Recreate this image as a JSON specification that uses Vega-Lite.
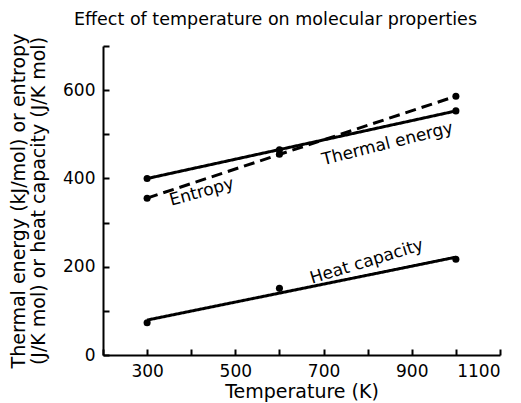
{
  "$schema": "https://vega.github.io/schema/vega-lite/v6.json",
  "width": 397,
  "height": 309,
  "autosize": "none",
  "padding": {"left": 103, "top": 46, "right": 21, "bottom": 48},
  "config": {
    "font": "DejaVu Sans",
    "view": {"stroke": null},
    "axis": {
      "domainColor": "black",
      "domainWidth": 2,
      "labelColor": "black",
      "labelFontSize": 17,
      "titleColor": "black",
      "titleFontSize": 19,
      "titleFontWeight": "normal",
      "ticks": false,
      "grid": true,
      "gridColor": "black",
      "gridWidth": 2,
      "gridOpacity": 1
    }
  },
  "title": {
    "text": "Effect of temperature on molecular properties",
    "fontSize": 17.5,
    "fontWeight": "normal",
    "anchor": "middle",
    "dx": -26,
    "offset": 5,
    "color": "black"
  },
  "datasets": {
    "points": [
      {"series": "Thermal energy", "temperature": 300, "value": 400},
      {"series": "Thermal energy", "temperature": 600, "value": 465},
      {"series": "Thermal energy", "temperature": 1000, "value": 553},
      {"series": "Entropy", "temperature": 300, "value": 355},
      {"series": "Entropy", "temperature": 600, "value": 455},
      {"series": "Entropy", "temperature": 1000, "value": 586},
      {"series": "Heat capacity", "temperature": 300, "value": 73},
      {"series": "Heat capacity", "temperature": 600, "value": 151},
      {"series": "Heat capacity", "temperature": 1000, "value": 217}
    ],
    "labels": [
      {"label": "Thermal energy", "temperature": 845, "value": 478},
      {"label": "Entropy", "temperature": 424, "value": 369},
      {"label": "Heat capacity", "temperature": 798, "value": 211}
    ]
  },
  "encoding": {
    "x": {
      "field": "temperature",
      "type": "quantitative",
      "scale": {"domain": [200, 1100], "nice": false, "zero": false},
      "axis": {
        "title": "Temperature (K)",
        "values": [200, 300, 400, 500, 600, 700, 800, 900, 1000, 1100],
        "format": "d",
        "labelExpr": "datum.value % 200 == 100 ? datum.label : ''",
        "gridDash": [0, 303, 6, 1000],
        "labelPadding": 8,
        "titlePadding": 3
      }
    },
    "y": {
      "field": "value",
      "type": "quantitative",
      "scale": {"domain": [0, 700], "nice": false},
      "axis": {
        "title": ["Thermal energy (kJ/mol) or entropy", "(J/K mol) or heat capacity (J/K mol)"],
        "titleLineHeight": 20,
        "values": [0, 100, 200, 300, 400, 500, 600, 700],
        "labelExpr": "datum.value % 200 == 0 ? datum.label : ''",
        "gridDash": [6, 1000],
        "labelPadding": 8,
        "titlePadding": 14
      }
    }
  },
  "layer": [
    {
      "data": {"name": "points"},
      "transform": [{"regression": "value", "on": "temperature", "groupby": ["series"]}],
      "mark": {"type": "line", "strokeWidth": 3, "color": "black"},
      "encoding": {
        "detail": {"field": "series"},
        "strokeDash": {
          "field": "series",
          "type": "nominal",
          "scale": {"domain": ["Thermal energy", "Entropy", "Heat capacity"], "range": [[1, 0], [11, 6], [1, 0]]},
          "legend": null
        }
      }
    },
    {
      "data": {"name": "points"},
      "mark": {"type": "circle", "size": 50, "color": "black", "opacity": 1}
    },
    {
      "data": {"name": "labels"},
      "mark": {"type": "text", "fontSize": 17, "color": "black"},
      "encoding": {
        "text": {"field": "label"},
        "angle": {
          "field": "label",
          "type": "nominal",
          "scale": {"domain": ["Thermal energy", "Entropy", "Heat capacity"], "range": [346, 343, 348]},
          "legend": null
        }
      }
    }
  ]
}
